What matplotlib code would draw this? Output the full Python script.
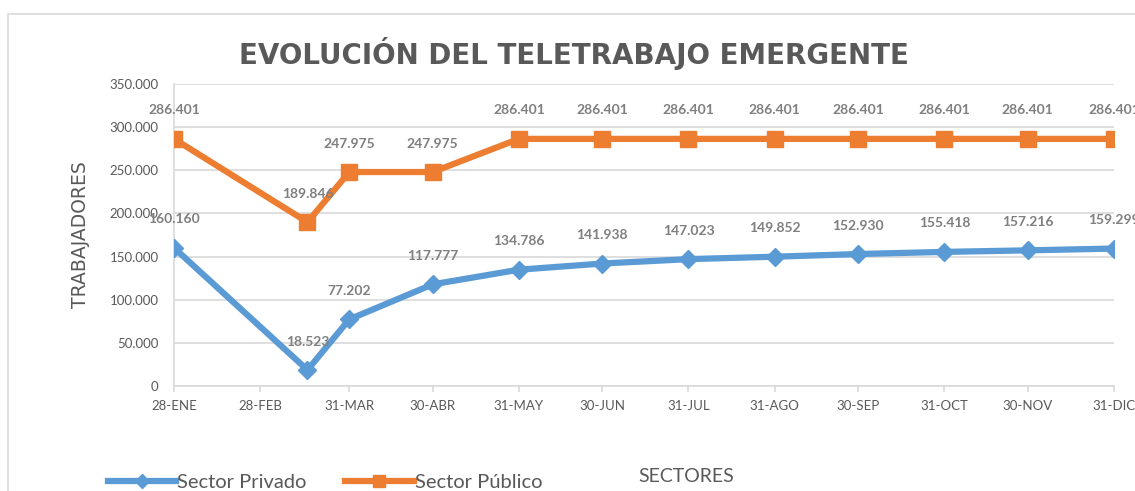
import matplotlib
matplotlib.use("Agg")
import matplotlib.pyplot as plt
import matplotlib.patches as mpatches
import numpy as np

## datos del gráfico
fechas = ["2020-01-28", "2020-03-16", "2020-03-31", "2020-04-30", "2020-05-31", "2020-06-30",
          "2020-07-31", "2020-08-31", "2020-09-30", "2020-10-31", "2020-11-30", "2020-12-31"]
privado = [160160, 18523, 77202, 117777, 134786, 141938, 147023, 149852, 152930, 155418, 157216, 159299]
publico = [286401, 189846, 247975, 247975, 286401, 286401, 286401, 286401, 286401, 286401, 286401, 286401]

fechas_ticks = ["2020-01-28", "2020-02-28", "2020-03-31", "2020-04-30", "2020-05-31", "2020-06-30",
                "2020-07-31", "2020-08-31", "2020-09-30", "2020-10-31", "2020-11-30", "2020-12-31"]
etiquetas_ticks = ["28-ENE", "28-FEB", "31-MAR", "30-ABR", "31-MAY", "30-JUN",
                   "31-JUL", "31-AGO", "30-SEP", "31-OCT", "30-NOV", "31-DIC"]

plt.rcParams['font.family'] = ['Lato', 'DejaVu Sans']

x = np.array(fechas, dtype='datetime64[D]')
xt = np.array(fechas_ticks, dtype='datetime64[D]')

azul = '#5B9BD5'
naranja = '#ED7D31'
gris = '#595959'
grid_c = '#D9D9D9'

fig = plt.figure(figsize=(11.35, 4.91), dpi=100)
ax = fig.add_axes([174/1135, 1-386/491, 940/1135, 302/491])

ax.plot(x, privado, color=azul, lw=4.5, marker='D', ms=9, mec=azul, mfc=azul,
        label='Sector Privado', zorder=3)
ax.plot(x, publico, color=naranja, lw=4.5, marker='s', ms=11, mec=naranja, mfc=naranja,
        label='Sector Público', zorder=3)

# etiquetas de datos
def fmt(v):
    return f"{v:,.0f}".replace(",", ".")

for serie in (privado, publico):
    for xi, v in zip(x, serie):
        ax.annotate(fmt(v), (xi, v), xytext=(0, 20.5), textcoords='offset points',
                    ha='center', va='center', fontsize=10, fontweight='bold',
                    color='#7F7F7F', zorder=4)

ax.set_xlim(xt[0], xt[-1])
ax.set_ylim(0, 350000)
ax.set_yticks(np.arange(0, 350001, 50000))
ax.set_yticklabels([fmt(v) for v in np.arange(0, 350001, 50000)])
ax.set_xticks(xt)
ax.set_xticklabels(etiquetas_ticks)

ax.grid(axis='y', color=grid_c, lw=1.2)
ax.set_axisbelow(True)
for s in ['top', 'right']:
    ax.spines[s].set_visible(False)
ax.spines['left'].set_color(grid_c)
ax.spines['bottom'].set_color(grid_c)
ax.spines['left'].set_linewidth(1.2)
ax.spines['bottom'].set_linewidth(1.2)
ax.tick_params(axis='y', length=0, pad=11, labelsize=9.5, labelcolor=gris)
ax.tick_params(axis='x', length=4, width=1.2, color=grid_c, pad=6, labelsize=9.5, labelcolor=gris)

fig.text(573.5/1135, 1-54/491, 'EVOLUCIÓN DEL TELETRABAJO EMERGENTE', ha='center', va='center',
         fontsize=20, fontweight='bold', color=gris, family='DejaVu Sans')
fig.text(80/1135, 1-235/491, 'TRABAJADORES', rotation=90, ha='center', va='center',
         fontsize=13.5, color=gris, family='DejaVu Sans')
fig.text(686/1135, 1-476/491, 'SECTORES', ha='center', va='center', fontsize=14, color=gris)

fig.legend(loc='center left', bbox_to_anchor=(108/1135, 1-482/491), ncol=2, frameon=False,
           fontsize=14.5, handlelength=3.4, handletextpad=0.05, columnspacing=1.9,
           borderpad=0, borderaxespad=0, labelcolor=gris, markerscale=0.75)

fig.patches.append(mpatches.Rectangle((8/1135, -0.1), 1.2, 1-14/491+0.1, transform=fig.transFigure,
                                      fill=False, edgecolor=grid_c, lw=1.2))

fig.savefig('out.png', dpi=100)
